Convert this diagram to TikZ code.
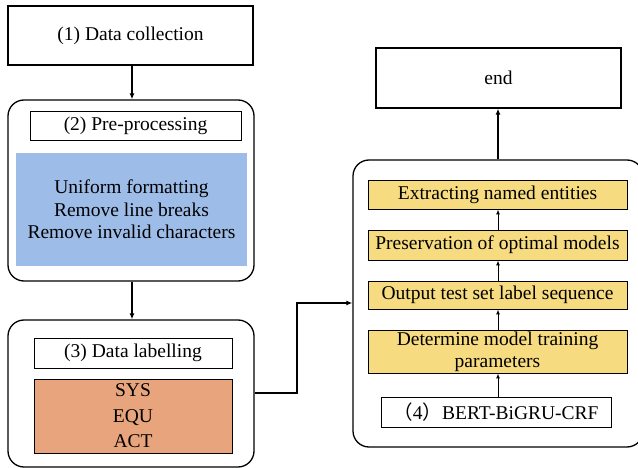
\documentclass[tikz,border=0pt]{standalone}
\usepackage{fontspec}
\setmainfont{Liberation Serif}
\newfontfamily\cjk{Noto Sans CJK SC}
\usetikzlibrary{arrows.meta}
\definecolor{blueA}{HTML}{9DBDE8}
\definecolor{orangeA}{HTML}{E8A57D}
\definecolor{yellowA}{HTML}{F6DB80}
\begin{document}
\begin{tikzpicture}[x=1pt,y=-1pt,
  box/.style={draw,line width=1.3pt,inner sep=0pt},
  rbox/.style={draw,line width=1.3pt,rounded corners=16pt,inner sep=0pt},
  hbox/.style={draw,line width=0.9pt,inner sep=0pt},
  ybox/.style={draw,line width=0.9pt,fill=yellowA,inner sep=0pt,align=center},
  arr/.style={line width=1.2pt,-{Latex[length=6pt,width=5pt]}},
  sarr/.style={line width=1pt,-{Latex[length=5pt,width=4pt]}},
  font=\fontsize{19.5}{22.5}\selectfont]
\useasboundingbox (0,0) rectangle (638,468);
% left column
\node[box,minimum width=245pt,minimum height=59pt] (n1) at (130.5,35.5) {(1) Data collection};
\node[rbox,minimum width=246pt,minimum height=181pt] (n2) at (131,190.5) {};
\node[hbox,minimum width=211pt,minimum height=29pt] (n2h) at (135.5,125.5) {(2) Pre-processing};
\node[fill=blueA,minimum width=231pt,minimum height=113pt,align=center,inner sep=0pt,font=\fontsize{19.5}{22.5}\selectfont] (n2b) at (131.5,209.5) {Uniform formatting\\Remove line breaks\\Remove invalid characters};
\node[rbox,minimum width=246pt,minimum height=147pt] (n3) at (131,393.5) {};
\node[hbox,minimum width=198pt,minimum height=30pt] (n3h) at (133,353) {(3) Data labelling};
\node[hbox,fill=orangeA,minimum width=198pt,minimum height=74pt,align=center,font=\fontsize{19.5}{25.5}\selectfont] (n3b) at (133,416) {SYS\\EQU\\ACT};
% right column
\node[box,minimum width=245pt,minimum height=60pt] (end) at (498.5,78) {end};
\node[rbox,minimum width=290pt,minimum height=287pt] (n4) at (498,303.5) {};
\node[ybox,minimum width=259pt,minimum height=29pt] (y1) at (497.5,194.5) {Extracting named entities};
\node[ybox,minimum width=259pt,minimum height=30pt] (y2) at (497.5,245) {Preservation of optimal models};
\node[ybox,minimum width=259pt,minimum height=28pt] (y3) at (497.5,295) {Output test set label sequence};
\node[ybox,minimum width=259pt,minimum height=43pt,font=\fontsize{19.5}{22}\selectfont] (y4) at (497.5,351.5) {Determine model training\\parameters};
\node[hbox,minimum width=230pt,minimum height=30pt] (bert) at (496,412) {{\cjk （}4{\cjk ）}BERT-BiGRU-CRF};
% connectors
\draw[arr] (n1.south -| 132,0) -- (n2.north -| 132,0);
\draw[arr] (n2.south -| 132,0) -- (n3.north -| 132,0);
\draw[arr] (n3.east |- 0,393) -- (297,393) -- (297,303) -- (n4.west |- 0,303);
\draw[arr] (n4.north -| 498,0) -- (end.south -| 498,0);
\draw[sarr] (bert.north -| 498,0) -- (y4.south -| 498,0);
\draw[sarr] (y4.north -| 498,0) -- (y3.south -| 498,0);
\draw[sarr] (y3.north -| 498,0) -- (y2.south -| 498,0);
\draw[sarr] (y2.north -| 498,0) -- (y1.south -| 498,0);
\end{tikzpicture}
\end{document}
